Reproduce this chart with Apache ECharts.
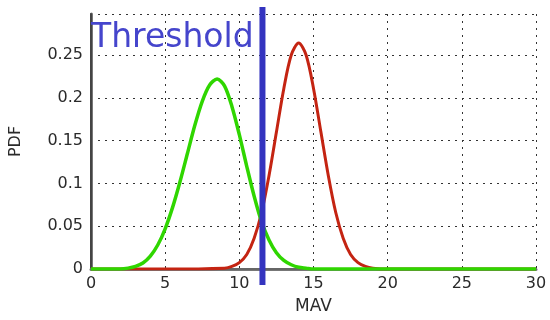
<!DOCTYPE html>
<html>
<head>
<meta charset="utf-8">
<script src="https://cdn.jsdelivr.net/npm/echarts@6/dist/echarts.min.js"></script>
<style>html,body{margin:0;padding:0;background:#fff}#c{width:550px;height:320px}</style>
</head>
<body>
<div id="c"></div>
<script>
// MAV values (x) and PDF values (y)
var greenX = [0, 1, 2, 2.5, 3, 3.5, 4, 4.5, 5, 5.5, 6, 6.5, 7, 7.5, 8, 8.5, 9, 9.5, 10, 10.5, 11, 11.5, 12, 12.5, 13, 13.5, 14, 14.5, 15, 20, 25, 30];
var greenY = [0, 0, 0, 0.001, 0.003, 0.007, 0.015, 0.028, 0.047, 0.072, 0.102, 0.135, 0.168, 0.196, 0.215, 0.222, 0.214, 0.190, 0.157, 0.120, 0.085, 0.055, 0.034, 0.019, 0.010, 0.005, 0.002, 0.001, 0, 0, 0, 0];
var redX = [0, 5, 9, 9.5, 10, 10.5, 11, 11.5, 12, 12.5, 13, 13.5, 14, 14.5, 15, 15.5, 16, 16.5, 17, 17.5, 18, 18.5, 19, 20, 25, 30];
var redY = [0, 0, 0.001, 0.003, 0.0075, 0.017, 0.036, 0.066, 0.109, 0.160, 0.211, 0.250, 0.264, 0.250, 0.211, 0.160, 0.109, 0.066, 0.036, 0.017, 0.0075, 0.003, 0.001, 0, 0, 0];
var thresholdX = 11.6;
var thresholdLabel = 'Threshold';
var xName = 'MAV';
var yName = 'PDF';
var xTicks = [0, 5, 10, 15, 20, 25, 30];
var yTicks = [0, 0.05, 0.1, 0.15, 0.2, 0.25];

function pairs(xs, ys) { return xs.map(function (x, i) { return [x, ys[i]]; }); }

var FONT = 'DejaVu Sans';
var chart = echarts.init(document.getElementById('c'), null, { renderer: 'canvas' });
var gridLine = { show: true, lineStyle: { color: '#333', type: [2, 5], width: 1 } };
chart.setOption({
  animation: false,
  backgroundColor: '#fff',
  title: {
    text: thresholdLabel, left: 91, top: 22, padding: 0,
    textStyle: { fontFamily: FONT, fontSize: 33, fontWeight: 'normal', color: '#4545cc' }
  },
  grid: [
    { left: 90, right: 14, top: 14, bottom: 49 },
    { left: 90, right: 14, top: 7, bottom: 35 }
  ],
  xAxis: [
    {
      type: 'value', gridIndex: 0, min: xTicks[0], max: xTicks[xTicks.length - 1], interval: 5,
      name: xName, nameLocation: 'middle', nameGap: 29,
      nameTextStyle: { fontFamily: FONT, fontSize: 17, color: '#2a2a2a' },
      axisLine: { show: true, lineStyle: { color: '#777', width: 3 } },
      axisTick: { show: false },
      axisLabel: { fontFamily: FONT, fontSize: 16, color: '#2a2a2a', margin: 7 },
      splitLine: gridLine
    },
    {
      type: 'value', gridIndex: 0, position: 'top', min: 0, max: 30,
      axisLine: { show: true, lineStyle: { color: '#666', width: 2 } },
      axisTick: { show: false }, axisLabel: { show: false }, splitLine: { show: false }
    },
    {
      type: 'value', gridIndex: 1, min: 0, max: 30, show: false
    }
  ],
  yAxis: [
    {
      type: 'value', gridIndex: 0, min: yTicks[0], max: 0.298, interval: 0.05,
      name: yName, nameLocation: 'middle', nameGap: 67, nameRotate: 90,
      nameTextStyle: { fontFamily: FONT, fontSize: 16, color: '#2a2a2a' },
      axisLine: { show: true, lineStyle: { color: '#777', width: 3 } },
      axisTick: { show: false },
      axisLabel: {
        fontFamily: FONT, fontSize: 16, color: '#2a2a2a', margin: 8,
        formatter: function (v) {
          for (var i = 0; i < yTicks.length; i++) { if (Math.abs(yTicks[i] - v) < 1e-6) return String(yTicks[i]); }
          return '';
        }
      },
      splitLine: gridLine
    },
    {
      type: 'value', gridIndex: 0, position: 'right', min: 0, max: 0.298,
      axisLine: { show: true, lineStyle: { color: '#444', width: 2 } },
      axisTick: { show: false }, axisLabel: { show: false }, splitLine: { show: false }
    },
    {
      type: 'value', gridIndex: 1, min: 0, max: 1, show: false
    }
  ],
  series: [
    {
      type: 'line', xAxisIndex: 0, yAxisIndex: 0, data: pairs(redX, redY),
      smooth: 0.3, showSymbol: false, symbol: 'none',
      lineStyle: { color: '#c42412', width: 3 }, z: 3
    },
    {
      type: 'line', xAxisIndex: 0, yAxisIndex: 0, data: pairs(greenX, greenY),
      smooth: 0.3, showSymbol: false, symbol: 'none',
      lineStyle: { color: '#2fd600', width: 3.5 }, z: 4
    },
    {
      type: 'line', xAxisIndex: 2, yAxisIndex: 2, data: [[thresholdX, 0], [thresholdX, 1]],
      showSymbol: false, symbol: 'none',
      lineStyle: { color: '#3434bf', width: 6 }, z: 5
    }
  ]
});
</script>
</body>
</html>
